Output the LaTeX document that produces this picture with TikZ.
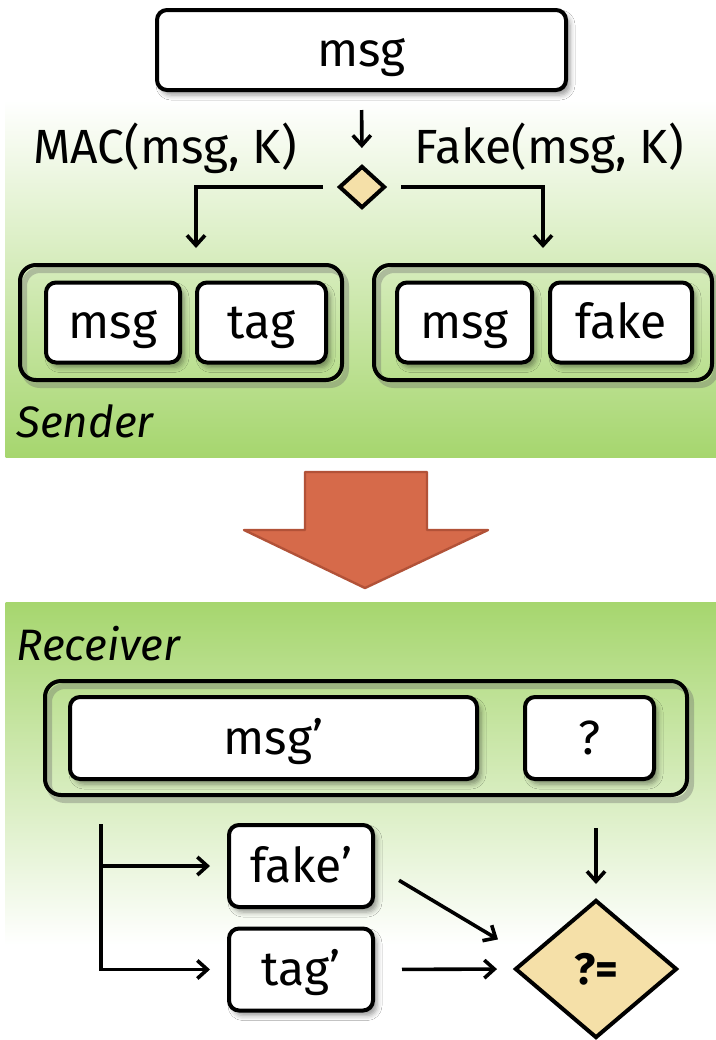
\documentclass[tikz,border=0pt]{standalone}
\usepackage{fontspec}
\setmainfont{Fira Sans}
\usetikzlibrary{shapes.geometric,shadows.blur,arrows.meta}

\definecolor{panelgreen}{RGB}{166,214,110}
\definecolor{cmpfill}{RGB}{245,224,168}
\definecolor{bigarrow}{RGB}{214,106,74}
\definecolor{bigarrowline}{RGB}{178,82,56}

\tikzset{
  box/.style={draw, line width=2pt, rounded corners=5pt, fill=white, inner sep=0pt,
    minimum height=40pt, font=\fontsize{24}{28}\selectfont, text height=21pt, text depth=5pt,
    blur shadow={shadow xshift=2pt, shadow yshift=-2.5pt, shadow blur radius=2.5pt, shadow opacity=40}},
  grp/.style={draw, line width=2pt, rounded corners=8pt, minimum height=57.5pt,
    preaction={draw=black!60, opacity=0.35, line width=3pt, transform canvas={xshift=2pt, yshift=-2.5pt}}},
  choice/.style={diamond, draw, line width=2pt, fill=cmpfill, inner sep=0pt},
  flow/.style={->, line width=1.8pt},
  lbl/.style={font=\fontsize{24}{28}\selectfont, inner sep=0pt},
  side/.style={font=\fontsize{22}{26}\selectfont\itshape, inner sep=0pt, anchor=base west},
}

\begin{document}
\begin{tikzpicture}[x=0.5pt, y=-0.5pt, >={Straight Barb[length=5pt, width=9pt]}]
    \useasboundingbox (0,0) rectangle (716,1040);
    \fill[white] (0,0) rectangle (716,1040);

    % background panels
    \shade[top color=white, bottom color=panelgreen] (5.5,100) rectangle (716,457);
    \shade[top color=panelgreen, bottom color=white] (5.5,602) rectangle (716,945);

    % sender side
    \node[box, minimum width=204.5pt] (top) at (361.5,50) {msg};
    \node[choice, minimum width=23pt, minimum height=21pt] (pick) at (362,187) {};
    \node[lbl, anchor=base] (maclbl) at (165,163) {MAC(msg, K)};
    \node[lbl, anchor=base] (fakelbl) at (549,163) {Fake(msg, K)};

    \node[grp, minimum width=161pt] (macgrp) at (181,322.5) {};
    \node[grp, minimum width=169pt] (fakegrp) at (543,322.5) {};
    \node[box, minimum width=67pt] (macmsg) at (113,322.5) {msg};
    \node[box, minimum width=64.5pt] (mactag) at (261.5,322.5) {tag};
    \node[box, minimum width=67.5pt] (fakemsg) at (464.5,322.5) {msg};
    \node[box, minimum width=71pt] (fakeval) at (621,322.5) {fake};
    \node[side] (sender) at (16,437) {Sender};

    \draw[flow, shorten <=9pt, shorten >=8pt] (top.south) -- (pick.north);
    \draw[flow, shorten <=7pt, shorten >=7.5pt] (pick.west) -| ([xshift=7.5pt]macgrp.north);
    \draw[flow, shorten <=7pt, shorten >=7.5pt] (pick.east) -| (fakegrp.north);

    % transfer arrow
    \filldraw[fill=bigarrow, draw=bigarrowline, line width=1.2pt, line join=round]
      (305,472) -- (427,472) -- (427,530) -- (488,530) -- (365,588) -- (244,530) -- (305,530) -- cycle;

    % receiver side
    \node[grp, minimum width=321pt, minimum height=57pt] (recvgrp) at (366,738) {};
    \node[box, minimum width=203.5pt, minimum height=41pt] (recvmsg) at (273.5,738) {msg’};
    \node[box, minimum width=64.5pt, minimum height=41pt] (recvq) at (589.5,738) {?};
    \node[side] (receiver) at (16,660) {Receiver};

    \coordinate (split) at (101,824);
    \node[box, minimum width=72pt, minimum height=41pt] (fakechk) at (301,866) {fake’};
    \node[box, minimum width=72pt, minimum height=41pt] (tagchk) at (301,969.5) {tag’};
    \node[choice, minimum width=81pt, minimum height=69pt, font=\fontsize{22}{26}\selectfont\bfseries] (cmp) at (596,969) {?=};

    \draw[flow, shorten >=8.5pt] (split) |- (fakechk.west);
    \draw[flow, shorten >=8.5pt] (split) |- (tagchk.west);
    \draw[flow, shorten <=14pt, shorten >=17pt] (fakechk.east) -- (cmp.170);
    \draw[flow, shorten <=13.5pt, shorten >=8pt] (tagchk.east) -- (cmp.west);
    \draw[flow, shorten <=23.5pt, shorten >=7pt] (recvq.south -| cmp.north) -- (cmp.north);
\end{tikzpicture}
\end{document}
